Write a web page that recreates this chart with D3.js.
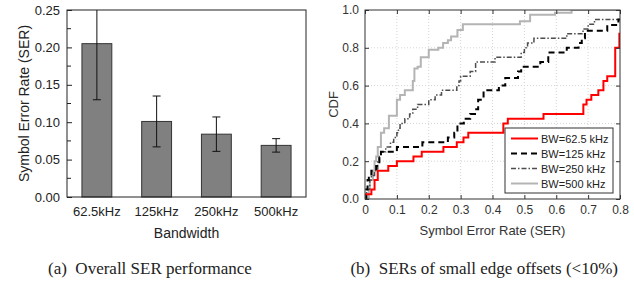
<!DOCTYPE html>
<html>
<head>
<meta charset="utf-8">
<script src="https://cdn.jsdelivr.net/npm/d3@7"></script>
<style>
  body { margin: 0; background: #fff; }
  svg { display: block; }
</style>
</head>
<body>
<div id="chart"></div>
<script>
// left panel: bar chart
var bandwidths = ["62.5kHz", "125kHz", "250kHz", "500kHz"];
var serMean = [0.205, 0.101, 0.084, 0.069];
var serErr = [0.075, 0.034, 0.023, 0.009];
var serTicks = [0, 0.05, 0.10, 0.15, 0.20, 0.25];

// right panel: CDF curves, [SER, CDF] step points
var cdf625 = [[0,0.025],[0.02,0.05],[0.03,0.1],[0.04,0.15],[0.073,0.175],[0.1,0.2],[0.152,0.225],[0.178,0.25],[0.246,0.275],[0.288,0.3],[0.309,0.325],[0.324,0.35],[0.434,0.4],[0.448,0.425],[0.56,0.45],[0.685,0.5],[0.695,0.525],[0.71,0.55],[0.732,0.575],[0.748,0.625],[0.76,0.65],[0.785,0.8],[0.798,0.875],[0.8,0.875]];
var cdf125 = [[0,0],[0.004,0.05],[0.008,0.1],[0.012,0.125],[0.02,0.15],[0.035,0.175],[0.045,0.225],[0.05,0.25],[0.1,0.275],[0.18,0.3],[0.26,0.325],[0.28,0.35],[0.29,0.4],[0.31,0.425],[0.33,0.45],[0.345,0.475],[0.355,0.525],[0.372,0.575],[0.42,0.6],[0.44,0.64],[0.48,0.675],[0.49,0.7],[0.55,0.725],[0.575,0.775],[0.633,0.8],[0.67,0.825],[0.68,0.85],[0.69,0.89],[0.76,0.92],[0.795,0.95],[0.8,0.95]];
var cdf250 = [[0,0],[0.005,0.05],[0.015,0.1],[0.02,0.125],[0.03,0.15],[0.04,0.2],[0.045,0.225],[0.05,0.25],[0.065,0.275],[0.08,0.3],[0.09,0.325],[0.1,0.35],[0.105,0.375],[0.11,0.4],[0.125,0.425],[0.14,0.45],[0.15,0.475],[0.165,0.5],[0.2,0.525],[0.22,0.55],[0.24,0.575],[0.288,0.6],[0.295,0.625],[0.3,0.65],[0.33,0.675],[0.347,0.725],[0.408,0.75],[0.49,0.775],[0.5,0.8],[0.51,0.825],[0.53,0.85],[0.633,0.875],[0.684,0.9],[0.7,0.925],[0.72,0.95],[0.8,0.95]];
var cdf500 = [[0.01,0],[0.012,0.05],[0.015,0.1],[0.025,0.15],[0.03,0.2],[0.035,0.225],[0.04,0.275],[0.05,0.35],[0.06,0.375],[0.075,0.44],[0.1,0.525],[0.11,0.55],[0.125,0.575],[0.15,0.625],[0.155,0.69],[0.165,0.7],[0.175,0.75],[0.2,0.79],[0.23,0.8],[0.245,0.825],[0.26,0.84],[0.27,0.86],[0.29,0.894],[0.307,0.925],[0.486,0.94],[0.518,0.975],[0.596,0.985],[0.648,1.0],[0.8,1.0]];
var seriesNames = ["BW=62.5 kHz", "BW=125 kHz", "BW=250 kHz", "BW=500 kHz"];
var cdfTicksX = [0, 0.1, 0.2, 0.3, 0.4, 0.5, 0.6, 0.7, 0.8];
var cdfTicksY = [0, 0.2, 0.4, 0.6, 0.8, 1.0];

var svg = d3.select("#chart").append("svg")
    .attr("width", 634)
    .attr("height", 281);

// ---------- (a) bar chart ----------
var a = { left: 67, right: 306, top: 10, bottom: 197 };
var ga = svg.append("g").attr("font-family", "'Liberation Sans', Arial, sans-serif");

var xa = d3.scaleBand().domain(bandwidths).range([a.left, a.right])
    .paddingInner(0.5).paddingOuter(0.25);
var ya = d3.scaleLinear().domain([0, 0.25]).range([a.bottom, a.top]);

ga.append("clipPath").attr("id", "clipA")
    .append("rect").attr("x", a.left).attr("y", a.top)
    .attr("width", a.right - a.left).attr("height", a.bottom - a.top);

ga.selectAll("rect.bar")
    .data(bandwidths)
    .enter().append("rect")
    .attr("class", "bar")
    .attr("x", function (d) { return xa(d); })
    .attr("y", function (d, i) { return ya(serMean[i]); })
    .attr("width", xa.bandwidth())
    .attr("height", function (d, i) { return ya(0) - ya(serMean[i]); })
    .attr("fill", "#808080")
    .attr("stroke", "#333")
    .attr("stroke-width", 1);

// error bars
var eb = ga.append("g").attr("clip-path", "url(#clipA)")
    .attr("stroke", "#111").attr("stroke-width", 1);
bandwidths.forEach(function (d, i) {
    var cx = xa(d) + xa.bandwidth() / 2;
    var hi = ya(serMean[i] + serErr[i]), lo = ya(serMean[i] - serErr[i]);
    eb.append("line").attr("x1", cx).attr("x2", cx).attr("y1", hi).attr("y2", lo);
    eb.append("line").attr("x1", cx - 4).attr("x2", cx + 4).attr("y1", hi).attr("y2", hi);
    eb.append("line").attr("x1", cx - 4).attr("x2", cx + 4).attr("y1", lo).attr("y2", lo);
});

// y axis with inward ticks
var yAxisA = ga.append("g")
    .attr("transform", "translate(" + a.left + ",0)")
    .call(d3.axisLeft(ya).tickValues(serTicks).tickFormat(d3.format(".2f"))
        .tickSizeInner(-5).tickSizeOuter(0).tickPadding(7));
yAxisA.select(".domain").remove();
yAxisA.selectAll("text").attr("font-size", 13).attr("fill", "#222");
yAxisA.selectAll("line").attr("stroke", "#222");
ga.append("g").selectAll("line")
    .data([0.025, 0.075, 0.125, 0.175, 0.225])
    .enter().append("line")
    .attr("x1", a.left).attr("x2", a.left + 4)
    .attr("y1", function (d) { return ya(d); })
    .attr("y2", function (d) { return ya(d); })
    .attr("stroke", "#222");

var xAxisA = ga.append("g")
    .attr("transform", "translate(0," + a.bottom + ")")
    .call(d3.axisBottom(xa).tickSize(0).tickPadding(10));
xAxisA.select(".domain").remove();
xAxisA.selectAll("text").attr("font-size", 13).attr("fill", "#222");

ga.append("rect")
    .attr("x", a.left).attr("y", a.top)
    .attr("width", a.right - a.left).attr("height", a.bottom - a.top)
    .attr("fill", "none").attr("stroke", "#222").attr("stroke-width", 1);

ga.append("text")
    .attr("x", (a.left + a.right) / 2).attr("y", 238)
    .attr("text-anchor", "middle").attr("font-size", 14).attr("fill", "#222")
    .text("Bandwidth");
ga.append("text")
    .attr("transform", "translate(29," + (a.top + a.bottom) / 2 + ") rotate(-90)")
    .attr("text-anchor", "middle").attr("font-size", 14).attr("fill", "#222")
    .text("Symbol Error Rate (SER)");

// ---------- (b) CDF ----------
var b = { left: 365, right: 620, top: 10, bottom: 199 };
var gb = svg.append("g").attr("font-family", "'Liberation Sans', Arial, sans-serif");

var xb = d3.scaleLinear().domain([0, 0.8]).range([b.left, b.right]);
var yb = d3.scaleLinear().domain([0, 1]).range([b.bottom, b.top]);

gb.append("clipPath").attr("id", "clipB")
    .append("rect").attr("x", b.left).attr("y", b.top)
    .attr("width", b.right - b.left).attr("height", b.bottom - b.top);

// dotted grid
var grid = gb.append("g").attr("stroke", "#d4d4d4").attr("stroke-dasharray", "1,2");
grid.selectAll("line.gx").data(cdfTicksX.slice(1, -1)).enter().append("line")
    .attr("x1", function (d) { return xb(d); }).attr("x2", function (d) { return xb(d); })
    .attr("y1", b.top).attr("y2", b.bottom);
grid.selectAll("line.gy").data(cdfTicksY.slice(1, -1)).enter().append("line")
    .attr("y1", function (d) { return yb(d); }).attr("y2", function (d) { return yb(d); })
    .attr("x1", b.left).attr("x2", b.right);

var step = d3.line()
    .x(function (d) { return xb(d[0]); })
    .y(function (d) { return yb(d[1]); })
    .curve(d3.curveStepAfter);

var series = [
    { name: seriesNames[0], data: cdf625, color: "#ff0000", width: 2, dash: null },
    { name: seriesNames[1], data: cdf125, color: "#000000", width: 2, dash: "6,4" },
    { name: seriesNames[2], data: cdf250, color: "#4d4d4d", width: 1.5, dash: "5,2,1.5,2" },
    { name: seriesNames[3], data: cdf500, color: "#b4b4b4", width: 2, dash: null }
];

var lines = gb.append("g").attr("clip-path", "url(#clipB)");
series.slice().reverse().forEach(function (s) {
    lines.append("path")
        .datum(s.data)
        .attr("d", step)
        .attr("fill", "none")
        .attr("stroke", s.color)
        .attr("stroke-width", s.width)
        .attr("stroke-dasharray", s.dash);
});

// axes, ticks inward on all four sides
var axL = gb.append("g").attr("transform", "translate(" + b.left + ",0)")
    .call(d3.axisLeft(yb).tickValues(cdfTicksY).tickFormat(d3.format(".1f"))
        .tickSizeInner(-4).tickSizeOuter(0).tickPadding(6));
var axB = gb.append("g").attr("transform", "translate(0," + b.bottom + ")")
    .call(d3.axisBottom(xb).tickValues(cdfTicksX).tickFormat(function (d) { return d === 0 ? "0" : d3.format(".1f")(d); })
        .tickSizeInner(-4).tickSizeOuter(0).tickPadding(6));
var axR = gb.append("g").attr("transform", "translate(" + b.right + ",0)")
    .call(d3.axisRight(yb).tickValues(cdfTicksY).tickFormat("").tickSizeInner(-4).tickSizeOuter(0));
var axT = gb.append("g").attr("transform", "translate(0," + b.top + ")")
    .call(d3.axisTop(xb).tickValues(cdfTicksX).tickFormat("").tickSizeInner(-4).tickSizeOuter(0));
[axL, axB, axR, axT].forEach(function (ax) {
    ax.select(".domain").remove();
    ax.selectAll("line").attr("stroke", "#333");
    ax.selectAll("text").attr("font-size", 12).attr("fill", "#333");
});

// legend
var lg = gb.append("g");
lg.append("rect")
    .attr("x", 505).attr("y", 128).attr("width", 108).attr("height", 65)
    .attr("fill", "#fff").attr("stroke", "#333").attr("stroke-width", 1);
series.forEach(function (s, i) {
    var yy = 138.5 + i * 15;
    lg.append("line")
        .attr("x1", 511).attr("x2", 538).attr("y1", yy).attr("y2", yy)
        .attr("stroke", s.color).attr("stroke-width", s.width)
        .attr("stroke-dasharray", s.dash);
    lg.append("text")
        .attr("x", 541).attr("y", yy + 4)
        .attr("font-size", 11).attr("fill", "#222")
        .text(s.name);
});

gb.append("rect")
    .attr("x", b.left).attr("y", b.top)
    .attr("width", b.right - b.left).attr("height", b.bottom - b.top)
    .attr("fill", "none").attr("stroke", "#333").attr("stroke-width", 1);

gb.append("text")
    .attr("x", (b.left + b.right) / 2).attr("y", 235)
    .attr("text-anchor", "middle").attr("font-size", 13).attr("fill", "#333")
    .text("Symbol Error Rate (SER)");
gb.append("text")
    .attr("transform", "translate(338," + (b.top + b.bottom) / 2 + ") rotate(-90)")
    .attr("text-anchor", "middle").attr("font-size", 13).attr("fill", "#333")
    .text("CDF");

// captions
var cap = svg.append("g").attr("font-family", "'Liberation Serif', 'Times New Roman', serif")
    .attr("font-size", 17).attr("fill", "#222");
cap.append("text").attr("x", 48).attr("y", 274).text("(a)\u2002Overall SER performance");
cap.append("text").attr("x", 618).attr("y", 274).attr("text-anchor", "end")
    .text("(b)\u2002SERs of small edge offsets (<10%)");
</script>
</body>
</html>
